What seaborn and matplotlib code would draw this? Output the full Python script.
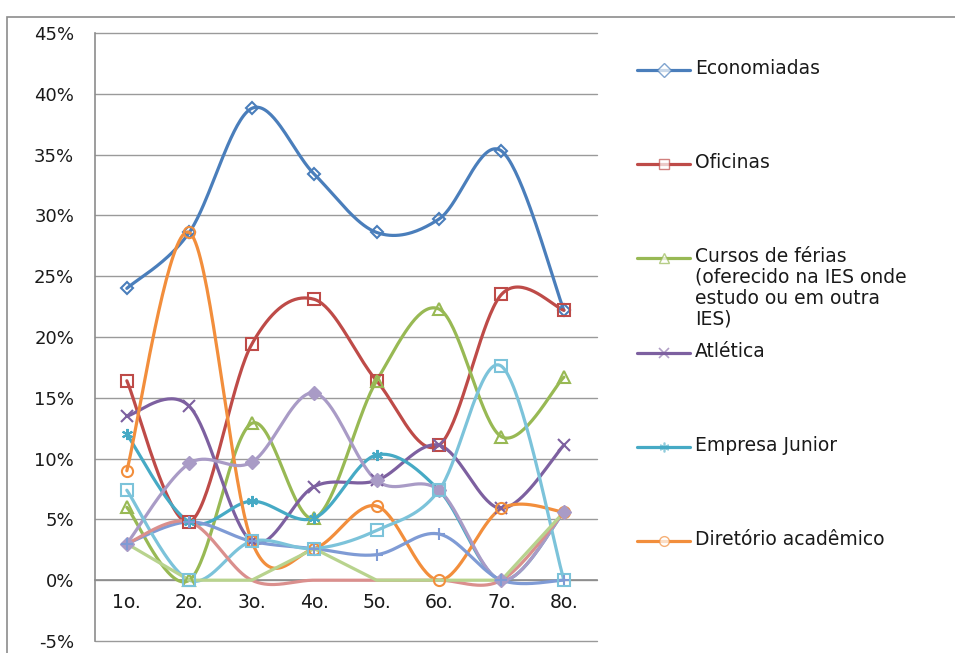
import numpy as np
import pandas as pd
import matplotlib
matplotlib.use("Agg")
import matplotlib.pyplot as plt
import seaborn as sns
from matplotlib.lines import Line2D
from matplotlib.patches import Rectangle
from matplotlib.ticker import FuncFormatter, MultipleLocator, FixedLocator

# ---------------- data (percent) ----------------
categories = ['1o.', '2o.', '3o.', '4o.', '5o.', '6o.', '7o.', '8o.']
economiadas = [24.0, 28.6, 38.8, 33.4, 28.6, 29.7, 35.3, 22.2]
oficinas = [16.4, 4.8, 19.4, 23.1, 16.4, 11.1, 23.5, 22.2]
cursos_ferias = [6.0, 0.0, 12.9, 5.1, 16.4, 22.3, 11.8, 16.7]
atletica = [13.5, 14.3, 3.2, 7.7, 8.2, 11.1, 5.9, 11.1]
empresa_junior = [12.0, 4.8, 6.5, 5.1, 10.3, 7.4, 0.0, 5.6]
diretorio = [9.0, 28.6, 3.2, 2.6, 6.1, 0.0, 5.9, 5.6]
serie7 = [3.0, 9.6, 9.7, 15.4, 8.2, 7.4, 0.0, 5.6]
serie8 = [3.0, 4.8, 3.2, 2.6, 2.1, 3.8, 0.0, 0.0]
serie9 = [7.4, 0.0, 3.2, 2.6, 4.1, 7.4, 17.6, 0.0]
serie10 = [3.0, 4.8, 0.0, 0.0, 0.0, 0.0, 0.0, 5.6]
serie11 = [3.0, 0.0, 0.0, 2.6, 0.0, 0.0, 0.0, 5.6]

legend_labels = ['Economiadas', 'Oficinas',
                 'Cursos de férias\n(oferecido na IES onde\nestudo ou em outra\nIES)',
                 'Atlética', 'Empresa Junior', 'Diretório acadêmico']

# name, values, colour, marker, smoothed
series = [
    ('Economiadas', economiadas, '#4A7EBB', 'D', True),
    ('Oficinas', oficinas, '#BE4B48', 's', True),
    ('Cursos de férias', cursos_ferias, '#98B954', '^', True),
    ('Atlética', atletica, '#7D60A0', 'x', True),
    ('Empresa Junior', empresa_junior, '#46AAC5', (6, 2, 0), True),
    ('Diretório acadêmico', diretorio, '#F28E3C', 'o', True),
    ('Série 7', serie7, '#A99BC6', 'D', True),
    ('Série 8', serie8, '#7F9BD5', '+', True),
    ('Série 9', serie9, '#7CC3DA', 's', True),
    ('Série 10', serie10, '#DA8F8D', None, True),
    ('Série 11', serie11, '#B8D38E', None, False),
]


def smooth(xs, ys, n=40):
    """Excel-like smoothed line (Catmull-Rom Bezier) through the data points."""
    xs = np.asarray(xs, float)
    ys = np.asarray(ys, float)
    px = np.concatenate([[xs[0]], xs, [xs[-1]]])
    py = np.concatenate([[ys[0]], ys, [ys[-1]]])
    ox, oy = [], []
    t = np.linspace(0, 1, n)
    for i in range(1, len(px) - 2):
        p0 = np.array([px[i], py[i]])
        p3 = np.array([px[i + 1], py[i + 1]])
        b1 = p0 + (np.array([px[i + 1], py[i + 1]]) - np.array([px[i - 1], py[i - 1]])) / 6
        b2 = p3 - (np.array([px[i + 2], py[i + 2]]) - np.array([px[i], py[i]])) / 6
        pts = ((1 - t) ** 3)[:, None] * p0 + (3 * (1 - t) ** 2 * t)[:, None] * b1 \
            + (3 * (1 - t) * t ** 2)[:, None] * b2 + (t ** 3)[:, None] * p3
        ox.extend(pts[:, 0])
        oy.extend(pts[:, 1])
    return np.array(ox), np.array(oy)


sns.set_style("white")
plt.rcParams['font.family'] = ['DejaVu Sans']

W, H = 955, 653
fig = plt.figure(figsize=(W / 100, H / 100), dpi=100)
ax = fig.add_axes([95 / W, 1 - 641 / H, (597 - 95) / W, (641 - 33) / H])

xpos = np.arange(len(categories))
for name, vals, color, marker, smoothed in series:
    v = np.array(vals) / 100.0
    if smoothed:
        sx, sy = smooth(xpos, v)
    else:
        sx, sy = xpos.astype(float), v
    df = pd.DataFrame({'x': sx, 'y': sy})
    sns.lineplot(data=df, x='x', y='y', ax=ax, color=color, lw=2.3, sort=False,
                 estimator=None, zorder=3)
    if marker is not None:
        if marker in ('x', '+') or isinstance(marker, tuple):
            ax.plot(xpos, v, ls='none', marker=marker, ms=8, mew=1.5, color=color, zorder=4)
        elif name == 'Série 7':
            ax.plot(xpos, v, ls='none', marker=marker, ms=7, mfc=color, mec=color, zorder=4)
        else:
            ax.plot(xpos, v, ls='none', marker=marker, ms=8 if marker != 'D' else 6.5,
                    mfc='none', mec=color, mew=1.5, zorder=4)

ax.set_xlim(-0.51, 7.53)
ax.set_ylim(-0.05, 0.45)
ax.yaxis.set_major_locator(MultipleLocator(0.05))
ax.yaxis.set_major_formatter(FuncFormatter(lambda v, p: f"{v*100:.0f}%"))
ax.grid(axis='y', color='#9a9a9a', lw=1.0)
ax.grid(axis='x', visible=False)
ax.set_xticks(xpos)
ax.set_xticklabels(categories)
ax.xaxis.set_minor_locator(FixedLocator(np.arange(-0.5, 8.0, 1.0)))
ax.tick_params(axis='x', which='major', length=0, pad=9, labelsize=13.5, colors='#1a1a1a')
ax.tick_params(axis='x', which='minor', length=6, direction='out', color='#8c8c8c', width=1)
ax.tick_params(axis='y', length=6, direction='out', color='#8c8c8c', labelsize=13,
               pad=9, labelcolor='#1a1a1a')
for s in ['top', 'right']:
    ax.spines[s].set_visible(False)
ax.spines['bottom'].set_position(('data', 0))
ax.spines['bottom'].set_color('#8c8c8c')
ax.spines['bottom'].set_linewidth(1.2)
ax.spines['left'].set_color('#8c8c8c')
ax.spines['left'].set_linewidth(1.2)
ax.set_xlabel('')
ax.set_ylabel('')
for gl in ax.get_ygridlines():
    gl.set_clip_on(False)

# legend (only first six series, Excel style, evenly spread)
leg_y = [70, 164, 258, 353, 447, 541]
for (name, vals, color, marker, _), lab, yy in zip(series[:6], legend_labels, leg_y):
    yf = 1 - yy / H
    fig.add_artist(Line2D([637 / W, 690 / W], [yf, yf], color=color, lw=2.3,
                          transform=fig.transFigure))
    mk = dict(marker=marker, ms=7, transform=fig.transFigure)
    if marker in ('x', '+') or isinstance(marker, tuple):
        mk.update(color=color, mew=1.2, alpha=0.6)
    else:
        mk.update(mfc='white', mec=color, mew=1.0, alpha=0.7)
    fig.add_artist(Line2D([663.5 / W], [yf], ls='none', **mk))
    fig.text(695 / W, 1 - (yy - 11) / H, lab, fontsize=13.5, color='#1a1a1a',
             va='top', ha='left', linespacing=1.12)

# chart area border
fig.add_artist(Rectangle((7 / W, -0.2), 1.2, 1 - 17 / H + 0.2, fill=False,
                         edgecolor='#8c8c8c', lw=1.2, transform=fig.transFigure))

fig.savefig('out.png', dpi=100)
